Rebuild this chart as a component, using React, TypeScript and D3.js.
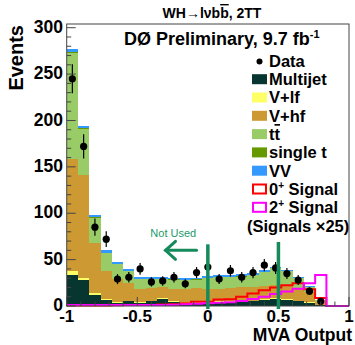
import React from 'react';
import * as d3 from 'd3';

// ---- data ----
const binLow = [-1, -0.92, -0.84, -0.76, -0.68, -0.6, -0.52, -0.44, -0.36, -0.28, -0.2, -0.12, -0.04,
  0.04, 0.12, 0.2, 0.28, 0.36, 0.44, 0.52, 0.6, 0.68, 0.76, 0.84, 0.92];
const binWidth = 0.08;

const dataCounts = [245, 172, 85, 72, 29, 31, 40, 26, 27, 31, 24, 36, 42, 29, 38, 31, 36, 44, 41, 35, 28, 16, 5, 0, 0];
const dataErr = [15.7, 13.1, 9.2, 8.5, 5.4, 5.6, 6.3, 5.1, 5.2, 5.6, 4.9, 6, 6.5, 5.4, 6.2, 5.6, 6, 6.6, 6.4, 5.9, 5.3, 4, 2.2, 0, 0];

const multijet = [33, 28, 12, 6, 3.5, 5, 3, 5, 8, 4.5, 3.5, 3.5, 3.5, 4.5, 4.5, 5, 5, 7, 7.5, 6.5, 5, 3.5, 1, 0, 0];
const vlf = [4.5, 2.5, 1.5, 1.5, 1, 0.8, 0.8, 0.8, 0.8, 0.8, 0.8, 0.8, 0.8, 0.8, 0.8, 0.8, 0.8, 0.8, 0.8, 0.6, 0.5, 0.4, 0.2, 0, 0];
const vhf = [120.5, 110.5, 54, 30.5, 24.5, 19, 15, 14, 12, 13.5, 13.5, 15.5, 14.5, 13.5, 14.5, 14.5, 15, 14, 14, 15.5, 13.5, 11.5, 3.3, 0, 0];
const ttbar = [115, 49.5, 27.5, 19, 16, 12.5, 10.5, 9.5, 8.5, 9.5, 10, 8.5, 11.5, 12, 11.5, 11.5, 12.5, 14.5, 18.5, 15, 11, 5, 1.7, 0, 0];
const singleT = [1, 1, 0.6, 0.5, 0.4, 0.4, 0.3, 0.3, 0.3, 0.3, 0.3, 0.3, 0.3, 0.3, 0.3, 0.3, 0.3, 0.3, 0.3, 0.3, 0.3, 0.2, 0.1, 0, 0];
const vv = [3, 2.5, 2, 3, 2, 2, 2, 2, 2, 2, 2, 2, 2, 2, 2, 2, 2, 2, 1.2, 1, 0.8, 0.5, 0.2, 0, 0];

const signal0 = [0.5, 0.5, 0.5, 0.5, 0.8, 1, 1, 1.2, 1.5, 2, 3, 4.5, 4.7, 7, 7.2, 10, 13.5, 17, 20, 22.5, 24.5, 18, 8.5, 0, 0];
const signal2 = [1, 1, 1, 1, 1, 1, 1, 1, 1.2, 1.4, 1.8, 2.5, 3, 3.5, 4, 5.5, 7.5, 10, 13, 15.5, 18.5, 24.5, 33.5, 0, 0];

const yTicks = [0, 50, 100, 150, 200, 250, 300];
const yTickLabels = ['0', '50', '100', '150', '200', '250', '300'];
const xTicks = [-1, -0.5, 0, 0.5, 1];
const xTickLabels = ['-1', '-0.5', '0', '0.5', '1'];

const cutLines = [0, 0.5];
const cutTops = [66.5, 69];
const arrowFromTo = [-0.08, -0.3];
const arrowLevel = 60;
const notUsedPos = [-0.245, 74];

const layerKeys = ['multijet', 'vlf', 'vhf', 'ttbar', 'singleT', 'vv'];
const layerColors = ['#07352f', '#ffff66', '#cc9933', '#99cc66', '#669900', '#3399ff'];

const legendLabels = ['Multijet', 'V+lf', 'V+hf', 'tt', 'single t', 'VV'];

// ---- layout ----
const W = 355, H = 345;
const X0 = 66.7, X1 = 349, Y0 = 306, Y1 = 24;
const FONT = '"Liberation Sans", Arial, Helvetica, sans-serif';
const CUT_COLOR = '#168a5c';

export default function App() {
  const xs = d3.scaleLinear().domain([-1, 1]).range([X0, X1]);
  const ys = d3.scaleLinear().domain([0, 304]).range([Y0, Y1]);

  const table = binLow.map((lo, i) => ({
    lo,
    multijet: multijet[i], vlf: vlf[i], vhf: vhf[i], ttbar: ttbar[i], singleT: singleT[i], vv: vv[i],
  }));
  const stack = d3.stack<any>().keys(layerKeys)(table);

  const stepLine = (vals: number[]) => {
    const pts: [number, number][] = binLow.map((lo, i) => [lo, vals[i]]);
    pts.push([1, vals[vals.length - 1]]);
    return d3.line<[number, number]>()
      .x(d => xs(d[0]))
      .y(d => ys(d[1]))
      .curve(d3.curveStepAfter)(pts) as string;
  };

  const minorY = d3.range(0, 301, 10);
  const minorX = d3.range(-10, 11).map(v => v / 10);

  const legendRows = [61.5, 79.2, 97.5, 115.8, 134.1, 152.4, 170.7, 189, 207.3, 225.6];
  const boxX = 252, boxW = 15, boxH = 10, textX = 269;
  const legendFs = 16.5;

  const ax = arrowFromTo.map(v => xs(v));
  const ay = ys(arrowLevel);

  return (
    <svg width={W} height={H} style={{ position: 'absolute', left: 0, top: 0, fontFamily: FONT }}>
      <rect x={0} y={0} width={W} height={H} fill="#fff" />

      {/* stacked backgrounds */}
      {stack.map((layer, li) => (
        <g key={layerKeys[li]} fill={layerColors[li]}>
          {layer.map((d, i) => {
            const h = ys(d[0]) - ys(d[1]);
            if (h <= 0) return null;
            return (
              <rect key={i} x={xs(binLow[i])} width={xs(binLow[i] + binWidth) - xs(binLow[i])}
                y={ys(d[1])} height={h} shapeRendering="crispEdges" />
            );
          })}
        </g>
      ))}

      {/* signals */}
      <path d={stepLine(signal0)} fill="none" stroke="#ff0000" strokeWidth={2} />
      <path d={stepLine(signal2)} fill="none" stroke="#ff00ff" strokeWidth={2} />

      {/* data */}
      <g>
        {dataCounts.map((c, i) => {
          if (c <= 0) return null;
          const cx = xs(binLow[i] + binWidth / 2);
          return (
            <g key={i}>
              <line x1={cx} x2={cx} y1={ys(c - dataErr[i])} y2={ys(c + dataErr[i])} stroke="#000" strokeWidth={1.2} />
              <circle cx={cx} cy={ys(c)} r={3.6} fill="#000" />
            </g>
          );
        })}
      </g>

      {/* frame */}
      <rect x={X0} y={Y1} width={X1 - X0} height={Y0 - Y1} fill="none" stroke="#444" strokeWidth={1} />

      {/* y ticks */}
      {minorY.map(v => (
        <line key={'my' + v} x1={X0} x2={X0 + (v % 50 === 0 ? 9 : 4.5)} y1={ys(v)} y2={ys(v)} stroke="#444" strokeWidth={1} />
      ))}
      {yTicks.map((v, i) => (
        <text key={'yl' + v} x={63} y={ys(v)} dy="0.3em" textAnchor="end" fontSize={17.5} fontWeight="bold">{yTickLabels[i]}</text>
      ))}

      {/* x ticks */}
      {minorX.map(v => (
        <line key={'mx' + v} x1={xs(v)} x2={xs(v)} y1={Y0} y2={Y0 - (Math.abs(v * 2 - Math.round(v * 2)) < 1e-6 ? 9 : 4.5)} stroke="#444" strokeWidth={1} />
      ))}
      {xTicks.map((v, i) => (
        <text key={'xl' + v} x={xs(v)} y={322} textAnchor="middle" fontSize={17} fontWeight="bold">{xTickLabels[i]}</text>
      ))}

      {/* axis titles */}
      <text x={352} y={341} textAnchor="end" fontSize={17.5} fontWeight="bold">MVA Output</text>
      <text transform="translate(23,25) rotate(-90)" textAnchor="end" fontSize={20} fontWeight="bold">Events</text>

      {/* titles */}
      <text x={212} y={18} textAnchor="middle" fontSize={14} fontWeight="bold">
        WH→lνb<tspan style={{ textDecoration: 'overline' }}>b</tspan>, 2TT
      </text>
      <text x={124} y={45} fontSize={18} fontWeight="bold">
        DØ Preliminary, 9.7 fb<tspan dy={-7} fontSize={11}>-1</tspan>
      </text>

      {/* legend */}
      <circle cx={259.5} cy={legendRows[0]} r={3} fill="#000" />
      <text x={textX} y={legendRows[0]} dy="0.36em" fontSize={legendFs} fontWeight="bold">Data</text>
      {legendLabels.map((lab, i) => (
        <g key={lab}>
          <rect x={boxX} y={legendRows[i + 1] - boxH / 2} width={boxW} height={boxH} fill={layerColors[i]} />
          <text x={textX} y={legendRows[i + 1]} dy="0.36em" fontSize={legendFs} fontWeight="bold">
            {lab === 'tt' ? <>t<tspan style={{ textDecoration: 'overline' }}>t</tspan></> : lab}
          </text>
        </g>
      ))}
      <rect x={boxX + 1} y={legendRows[7] - boxH / 2 + 0.5} width={boxW - 2} height={boxH - 1} fill="#fff" stroke="#ff0000" strokeWidth={2} />
      <text x={textX} y={legendRows[7]} dy="0.36em" fontSize={legendFs} fontWeight="bold">
        0<tspan dy={-6} fontSize={10}>+</tspan><tspan dy={6}> Signal</tspan>
      </text>
      <rect x={boxX + 1} y={legendRows[8] - boxH / 2 + 0.5} width={boxW - 2} height={boxH - 1} fill="#fff" stroke="#ff00ff" strokeWidth={2} />
      <text x={textX} y={legendRows[8]} dy="0.36em" fontSize={legendFs} fontWeight="bold">
        2<tspan dy={-6} fontSize={10}>+</tspan><tspan dy={6}> Signal</tspan>
      </text>
      <text x={247} y={legendRows[9]} dy="0.36em" fontSize={legendFs} fontWeight="bold">(Signals ×25)</text>

      {/* annotations */}
      {cutLines.map((v, i) => (
        <line key={'cut' + v} x1={xs(v)} x2={xs(v)} y1={ys(cutTops[i])} y2={Y0 + 3} stroke={CUT_COLOR} strokeWidth={3.5} />
      ))}
      <g stroke={CUT_COLOR} strokeWidth={3} fill="none" strokeLinecap="round">
        <line x1={ax[0]} x2={ax[1]} y1={ay} y2={ay} />
        <polyline points={`${ax[1] + 10},${ay - 9} ${ax[1]},${ay} ${ax[1] + 10},${ay + 9}`} />
      </g>
      <text x={xs(notUsedPos[0])} y={ys(notUsedPos[1])} textAnchor="middle" fontSize={11} fill="#22996a">Not Used</text>
    </svg>
  );
}
